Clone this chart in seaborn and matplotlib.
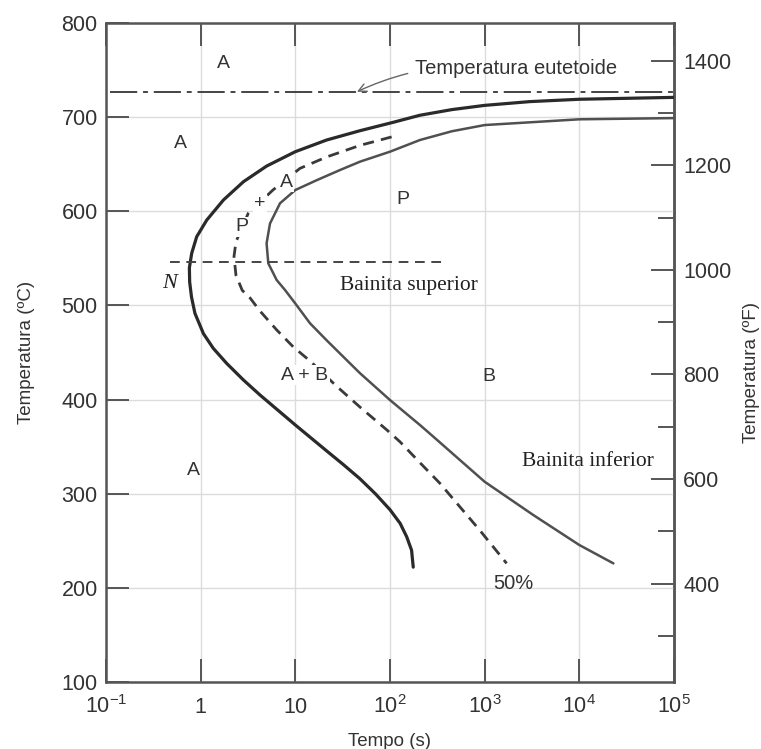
import matplotlib
matplotlib.use("Agg")
import matplotlib.pyplot as plt
import seaborn as sns
import pandas as pd
from matplotlib.ticker import NullLocator

# Isothermal transformation (TTT) curves of a eutectoid steel
# time in seconds, temperature in degrees Celsius
start_time = [1e5, 1e4, 3000, 1e3, 450, 207, 108, 48.2, 21.4, 10, 4.97, 2.83,
              1.74, 1.16, 0.908, 0.804, 0.76, 0.765, 0.80, 0.87, 1.07, 1.36,
              1.88, 2.83, 4.24, 10, 21.4, 32.1, 48, 70, 100, 128, 150, 169, 176]
start_temp = [721, 719, 716.5, 712.5, 708, 702, 694.5, 685.6, 675.7, 663.3,
              648, 631.4, 612, 590.7, 573, 555.4, 540, 525, 509, 491.6, 470,
              454.4, 438.5, 420.8, 404.8, 373, 345.5, 331, 316, 300, 283,
              268.5, 254.3, 240, 222]

half_time = [104, 48.2, 21.4, 11.2, 5.8, 3.18, 2.36, 2.25, 2.36, 2.75, 3.32,
             4.24, 6.35, 9.5, 14.3, 27.4, 48.2, 92, 128, 207, 337, 548, 891,
             1706]
half_temp = [679, 670, 657.7, 645.6, 622.6, 597.8, 567.7, 552, 532, 516, 508,
             494, 474, 456, 441, 414, 392, 368, 355, 333, 311, 286, 261, 226]

end_time = [1e5, 1e4, 1e3, 450, 207, 100, 48.2, 29.6, 16.8, 10, 6.89, 5.4,
            4.97, 5.18, 6.35, 7.78, 10, 14.3, 21.4, 32.1, 48.2, 100, 207, 287,
            1000, 3260, 1e4, 22900]
end_temp = [699, 697.7, 691.6, 685, 675.7, 663.3, 652.7, 643.8, 633, 622.6,
            608.5, 587, 566, 544.7, 527, 516.4, 502, 481, 463, 445.5, 428,
            399.5, 373, 360.6, 312.7, 277.4, 245.5, 226]

eutectoid_time = [0.11, 1e5]
eutectoid_temp = [727, 727]

nose_time = [0.474, 363]
nose_temp = [546, 546]

x_ticks = [1e-1, 1, 10, 1e2, 1e3, 1e4, 1e5]
x_tick_labels = [r"$\mathregular{10^{-1}}$", r"$\mathregular{1}$", r"$\mathregular{10}$",
                 r"$\mathregular{10^{2}}$", r"$\mathregular{10^{3}}$",
                 r"$\mathregular{10^{4}}$", r"$\mathregular{10^{5}}$"]
y_ticks = [100, 200, 300, 400, 500, 600, 700, 800]
f_major_ticks = [400, 600, 800, 1000, 1200, 1400]
f_minor_ticks = [300, 500, 700, 900, 1100, 1300]

sns.set_theme(style="white")
plt.rcParams["font.family"] = ["Liberation Sans", "DejaVu Sans"]
plt.rcParams["mathtext.fontset"] = "custom"
plt.rcParams["mathtext.rm"] = "Liberation Sans"

TEXT = "#333333"
SPINE = "#555555"

fig = plt.figure(figsize=(7.61, 7.49), dpi=100)
ax = fig.add_axes([106 / 761, 1 - 682 / 749, 568 / 761, 659 / 749])
ax.set_xscale("log")

curves = pd.concat([
    pd.DataFrame({"t": start_time, "T": start_temp, "curve": "start"}),
    pd.DataFrame({"t": half_time, "T": half_temp, "curve": "half"}),
    pd.DataFrame({"t": end_time, "T": end_temp, "curve": "end"}),
])

sns.lineplot(data=curves[curves.curve == "start"], x="t", y="T", sort=False,
             estimator=None, ax=ax, color="#2a2a2a", lw=2.3, zorder=3)
sns.lineplot(data=curves[curves.curve == "end"], x="t", y="T", sort=False,
             estimator=None, ax=ax, color="#505050", lw=1.8, zorder=3)
sns.lineplot(data=curves[curves.curve == "half"], x="t", y="T", sort=False,
             estimator=None, ax=ax, color="#3a3a3a", lw=2.0,
             linestyle=(0, (4.0, 2.6)), zorder=3)
sns.lineplot(x=eutectoid_time, y=eutectoid_temp, ax=ax, color="#444444", lw=1.4,
             linestyle=(0, (14, 3, 2.5, 3)), zorder=3)
sns.lineplot(x=nose_time, y=nose_temp, ax=ax, color="#444444", lw=1.4,
             linestyle=(0, (5, 3.4)), zorder=3)

ax.set_xlim(1e-1, 1e5)
ax.set_ylim(100, 800)
ax.set_xticks(x_ticks)
ax.set_xticklabels(x_tick_labels)
ax.xaxis.set_minor_locator(NullLocator())
ax.set_yticks(y_ticks)
ax.set_yticklabels([str(v) for v in y_ticks])

ax.grid(True, which="major", color="#dcdcdc", lw=1.0, zorder=0)
for s in ax.spines.values():
    s.set_color(SPINE)
    s.set_linewidth(1.8)

ax.tick_params(axis="x", which="major", direction="in", length=16.5, width=1.4,
               color=SPINE, top=True, bottom=True, labelsize=15.5,
               labelcolor=TEXT, pad=22)
ax.tick_params(axis="y", which="major", direction="in", length=16.5, width=1.4,
               color=SPINE, left=True, right=False, labelsize=15.5,
               labelcolor=TEXT, pad=6)
for lbl in ax.get_xticklabels():
    lbl.set_verticalalignment("baseline")

ax.set_xlabel("Tempo (s)", fontsize=13.5, color=TEXT)
ax.set_ylabel("Temperatura (ºC)", fontsize=13.5, color=TEXT)
ax.xaxis.set_label_coords(0.5, -0.078)
ax.yaxis.set_label_coords(-0.125, 0.5)

# Fahrenheit scale on the right
sec = ax.secondary_yaxis("right", functions=(lambda c: c * 9 / 5 + 32,
                                             lambda f: (f - 32) * 5 / 9))
sec.set_yticks(f_major_ticks)
sec.set_yticks(f_minor_ticks, minor=True)
sec.tick_params(which="major", direction="in", length=16.5, width=1.4,
                color=SPINE, labelsize=15.5, labelcolor=TEXT, pad=6.5)
sec.tick_params(which="minor", direction="in", length=11.5, width=1.4,
                color=SPINE)
sec.spines["right"].set_color(SPINE)
sec.spines["right"].set_linewidth(1.8)
sec.set_ylabel("Temperatura (ºF)", fontsize=13.5, color=TEXT)
sec.yaxis.set_label_coords(1.121, 0.47, transform=ax.transAxes)

# Phase region labels
sans = dict(fontsize=14, color=TEXT, ha="center", va="center", zorder=5)
for txt, t, T in [("A", 1.76, 757.5), ("A", 0.605, 672.5), ("A", 0.835, 325),
                  ("P", 138, 612), ("B", 1096, 424)]:
    ax.text(t, T, txt, **sans)

cut = dict(boxstyle="square,pad=0.08", fc="white", ec="none")
for txt, t, T in [("A", 8.05, 631), ("+", 4.24, 608.5), ("P", 2.71, 583.6),
                  ("A + B", 12.6, 426)]:
    ax.text(t, T, txt, bbox=cut, **sans)

ax.text(2005, 204.8, "50%", fontsize=14.5, color=TEXT, ha="center", va="center")

serif = ["Liberation Serif", "DejaVu Serif"]
ax.text(29.6, 516.4, "Bainita superior", family=serif, fontsize=15.5,
        color="#222222", ha="left", va="baseline")
ax.text(2455, 329.7, "Bainita inferior", family=serif, fontsize=15.5,
        color="#222222", ha="left", va="baseline")
ax.text(0.474, 523.5, "N", family=serif, style="italic", fontsize=16,
        color="#222222", ha="center", va="center")

ax.annotate("Temperatura eutetoide", xy=(44.8, 727), xytext=(184, 752),
            fontsize=14.5, color=TEXT, ha="left", va="center",
            arrowprops=dict(arrowstyle="->", color="#666666", lw=1.0,
                            connectionstyle="arc3,rad=0.15",
                            shrinkA=3, shrinkB=0))

fig.savefig("out.png", dpi=100)
